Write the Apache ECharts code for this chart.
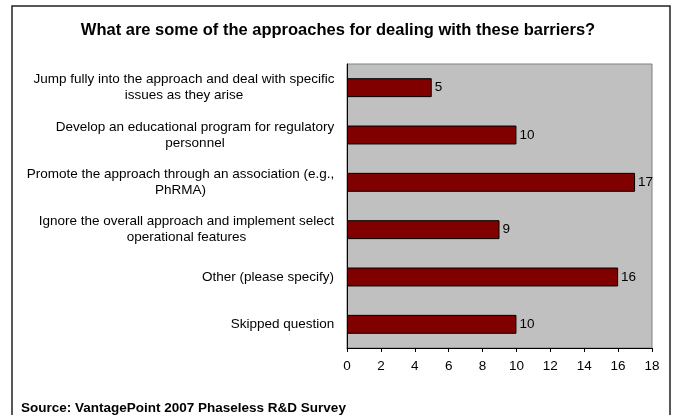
<!DOCTYPE html>
<html>
<head>
<meta charset="utf-8">
<script src="https://cdn.jsdelivr.net/npm/echarts@6/dist/echarts.min.js"></script>
<style>
  html, body { margin: 0; padding: 0; background: #fff; }
  #chart { width: 676px; height: 415px; }
</style>
</head>
<body>
<div id="chart"></div>
<script>
// Survey answers, listed top to bottom
var categories = [
  'Jump fully into the approach and deal with specific\nissues as they arise',
  'Develop an educational program for regulatory\npersonnel',
  'Promote the approach through an association (e.g.,\nPhRMA)',
  'Ignore the overall approach and implement select\noperational features',
  'Other (please specify)',
  'Skipped question'
];
var responses = [5, 10, 17, 9, 16, 10];
var xTicks = { min: 0, max: 18, step: 2 };

var FONT = '"Liberation Sans", Arial, sans-serif';
var LABEL_SIZE = 13.5;

// Measure each wrapped label so its lines can be centred within the block
var ctx = document.createElement('canvas').getContext('2d');
ctx.font = LABEL_SIZE + 'px ' + FONT;
var rich = {};
categories.forEach(function (c, i) {
  var w = 0;
  c.split('\n').forEach(function (line) {
    w = Math.max(w, ctx.measureText(line).width);
  });
  rich['c' + i] = {
    width: Math.ceil(w) + 1,
    align: 'center',
    fontSize: LABEL_SIZE,
    fontFamily: FONT,
    color: '#000',
    lineHeight: 16
  };
});

var chart = echarts.init(document.getElementById('chart'), null, { renderer: 'canvas' });
chart.setOption({
  animation: false,
  backgroundColor: '#fff',
  graphic: [{
    type: 'rect',
    shape: { x: 12, y: 6, width: 658, height: 420 },
    style: { fill: 'none', stroke: '#222', lineWidth: 1.5 },
    z: 100
  }],
  title: [{
    text: 'What are some of the approaches for dealing with these barriers?',
    left: 'center',
    top: 17,
    textStyle: { fontFamily: FONT, fontSize: 16.5, fontWeight: 'bold', color: '#000' }
  }, {
    text: 'Source: VantagePoint 2007 Phaseless R&D Survey',
    left: 16,
    top: 396,
    textStyle: { fontFamily: FONT, fontSize: 13.5, fontWeight: 'bold', color: '#000' }
  }],
  grid: {
    left: 347, top: 64, width: 305, height: 284,
    show: true,
    backgroundColor: '#C0C0C0',
    borderColor: '#808080',
    borderWidth: 1
  },
  xAxis: {
    type: 'value',
    min: xTicks.min, max: xTicks.max, interval: xTicks.step,
    splitLine: { show: false },
    axisLine: { show: true, lineStyle: { color: '#000', width: 1 } },
    axisTick: { show: true, length: 4, lineStyle: { color: '#000' } },
    axisLabel: { fontFamily: FONT, fontSize: 13.5, color: '#000', margin: 11 }
  },
  yAxis: {
    type: 'category',
    data: categories,
    inverse: true,
    axisLine: { show: true, lineStyle: { color: '#000', width: 1 } },
    axisTick: { show: false },
    axisLabel: {
      margin: 12,
      align: 'right',
      formatter: function (value, idx) {
        return value.split('\n').map(function (l) {
          return '{c' + idx + '|' + l + '}';
        }).join('\n');
      },
      rich: rich
    }
  },
  series: [{
    type: 'bar',
    data: responses,
    barCategoryGap: '60%',
    itemStyle: { color: '#800000', borderColor: '#000', borderWidth: 1 },
    label: {
      show: true,
      position: 'right',
      distance: 3,
      fontFamily: FONT,
      fontSize: 13.5,
      color: '#000'
    }
  }]
});
</script>
</body>
</html>
